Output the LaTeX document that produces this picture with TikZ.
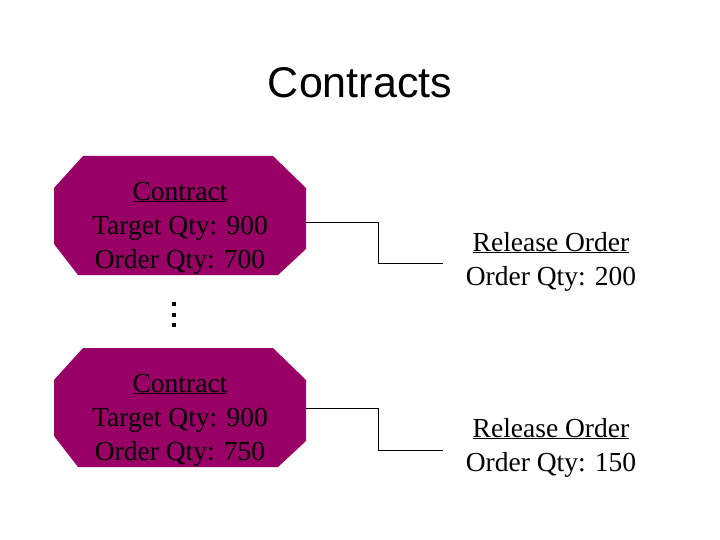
\documentclass[tikz,border=0pt]{standalone}
\usepackage{fontspec}
\setmainfont{Liberation Serif}
\newfontfamily\titlefont{Liberation Sans}
\definecolor{octfill}{RGB}{153,0,102}
\begin{document}
\begin{tikzpicture}[x=1pt,y=-1pt,
  octfillstyle/.style={fill=octfill, draw=none},
  bodytext/.style={font=\fontsize{27.5}{34}\selectfont, align=center, anchor=base, inner sep=0pt},
  conn/.style={draw=black, line width=0.9pt}]
\useasboundingbox (0,0) rectangle (720,540);
\node[font=\titlefont\fontsize{43}{50}\selectfont, anchor=base] (title) at (360,98) {Contracts};
% contract 1
\fill[octfillstyle] (83,156) -- (273,156) -- (306,188) -- (306,249) -- (278,275) -- (78,275) -- (54,244) -- (54,188) -- cycle;
\coordinate (oct1) at (306,222);
\node[bodytext] (c1) at (180,268) {\underline{Contract}\\Target Qty: 900\\Order Qty: 700};
\node[bodytext] (r1) at (551,285) {\underline{Release Order}\\Order Qty: 200};
\coordinate (r1in) at (443,263);
\draw[conn] (oct1) -- (378,222) |- (r1in);
% dots
\node[inner sep=0pt, minimum size=0pt] (dots) at (174,315) {};
\foreach \dy in {-11,0,10} \fill ([yshift=-\dy pt]dots.center) ++(-1.6,-1.6) rectangle ++(3.2,3.2);
% contract 2
\fill[octfillstyle] (83,348) -- (273,348) -- (306,380) -- (306,441) -- (278,467) -- (78,467) -- (54,436) -- (54,380) -- cycle;
\coordinate (oct2) at (306,408);
\node[bodytext] (c2) at (180,460) {\underline{Contract}\\Target Qty: 900\\Order Qty: 750};
\node[bodytext] (r2) at (551,471) {\underline{Release Order}\\Order Qty: 150};
\coordinate (r2in) at (443,450);
\draw[conn] (oct2) -- (378,408) |- (r2in);
\end{tikzpicture}
\end{document}
